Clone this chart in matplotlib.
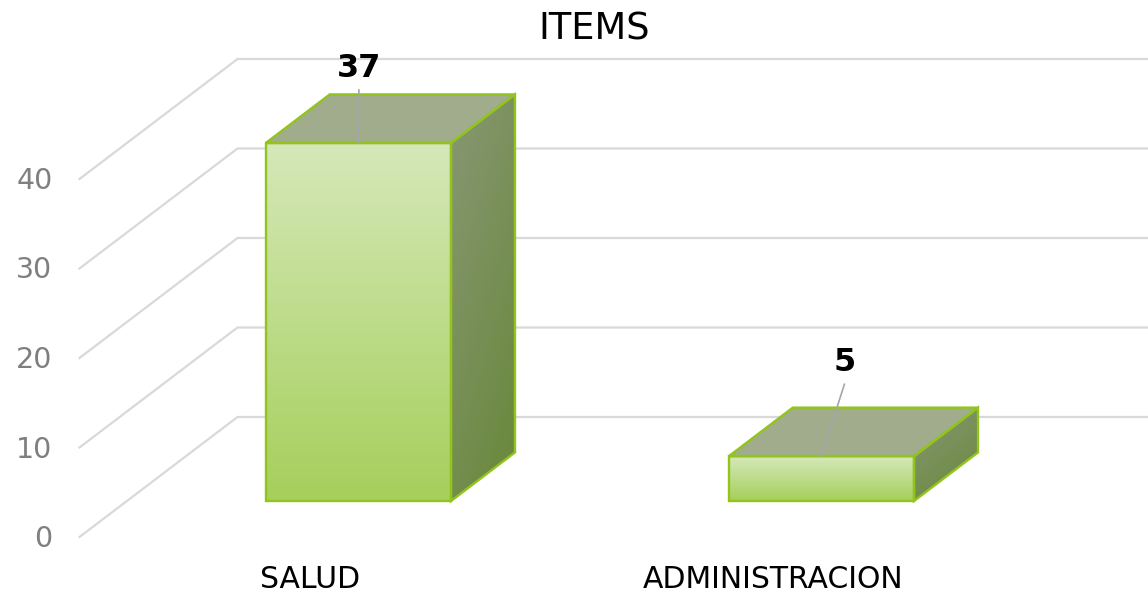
import matplotlib.pyplot as plt
import numpy as np
from matplotlib.patches import Polygon
from matplotlib.colors import LinearSegmentedColormap

# datos
categories = ['SALUD', 'ADMINISTRACION']
bar_heights = [40, 5]
value_labels = ['37', '5']
y_ticks = [0, 10, 20, 30, 40]

# proyeccion oblicua (pixeles)
X0, CW = 311, 463
Y0, S = 537, 8.95
DX, DY = 158, 120
D_FRONT, D_BACK = 0.3, 0.705
BAR_W = 0.4

# desplazamiento de las etiquetas (px, linea base del texto)
label_offsets = [(0.5, -66), (23, -85)]

grid_c = '#d9d9d9'
edge_c = '#92c41c'


def proj(c, v, d):
    return X0 + c * CW + d * DX, Y0 - v * S - d * DY


fig = plt.figure(figsize=(11.48, 5.93), dpi=100)
ax = fig.add_axes([0, 0, 1, 1])


def grad_fill(pts, c_top, c_bot, mix=0.0, z=3):
    patch = Polygon(pts, closed=True, fc='none', ec='none')
    ax.add_patch(patch)
    xs, ys = zip(*pts)
    cmap = LinearSegmentedColormap.from_list('g', [c_top, c_bot])
    yy, xx = np.mgrid[0:1:200j, 0:1:200j]
    grad = (1 - mix) * yy + mix * xx
    im = ax.imshow(grad, cmap=cmap, extent=(min(xs), max(xs), max(ys), min(ys)),
                   aspect='auto', zorder=z, interpolation='bilinear')
    im.set_clip_path(patch)


# paredes y lineas de cuadricula
for t in y_ticks:
    xf, yf = proj(-0.5, t, 0)
    xb, yb = proj(-0.5, t, 1)
    xr, _ = proj(1.6, t, 1)
    ax.plot([xf, xb, xr], [yf, yb, yb], color=grid_c, lw=1.6, zorder=1,
            solid_joinstyle='miter')
    ax.text(xf - 27, yf + 10, str(t), ha='right', va='baseline',
            fontsize=20.5, color='#7f7f7f')

# barras 3d
for i, h in enumerate(bar_heights):
    l, r = i - BAR_W / 2, i + BAR_W / 2
    flb, frb = proj(l, 0, D_FRONT), proj(r, 0, D_FRONT)
    flt, frt = proj(l, h, D_FRONT), proj(r, h, D_FRONT)
    brb = proj(r, 0, D_BACK)
    brt, blt = proj(r, h, D_BACK), proj(l, h, D_BACK)

    side = [frb, brb, brt, frt]
    top = [flt, frt, brt, blt]
    front = [flb, frb, frt, flt]

    grad_fill(side, '#889774', '#68883a', mix=0.35, z=3)
    ax.add_patch(Polygon(top, closed=True, fc='#a0ac8c', ec='none', zorder=3))
    grad_fill(front, '#d5e8b9', '#a6cf5b', z=3)
    for poly in (side, top, front):
        ax.add_patch(Polygon(poly, closed=True, fc='none', ec=edge_c, lw=1.7,
                             zorder=4, joinstyle='miter'))

    # etiqueta de datos con linea guia
    ax_x = (flt[0] + frt[0]) / 2
    ax_y = flt[1]
    ox, oy = label_offsets[i]
    tx, ty = ax_x + ox, ax_y + oy
    ax.plot([tx, ax_x], [ty + 13, ax_y], color='#a6a6a6', lw=1.2, zorder=5)
    ax.text(tx, ty, value_labels[i], ha='center', va='baseline',
            fontsize=23, fontweight='bold', color='black', zorder=6)

    # etiqueta de categoria
    cx, cy = proj(i, 0, 0)
    ax.text(cx - 1, 588, categories[i], ha='center', va='baseline',
            fontsize=21.5, color='black')

ax.text(594, 40, 'ITEMS', ha='center', va='baseline', fontsize=26.5, color='black')

ax.set_xlim(0, 1148)
ax.set_ylim(593, 0)
ax.axis('off')
fig.savefig('out.png', dpi=100)
